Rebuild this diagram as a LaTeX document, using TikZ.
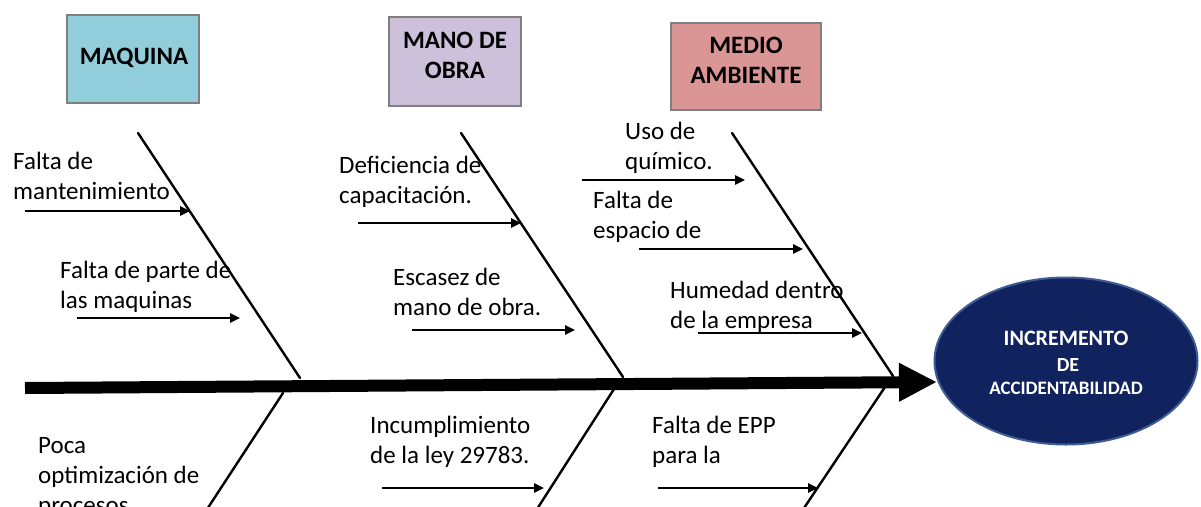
\documentclass[tikz,border=0pt]{standalone}
\usepackage{fontspec}
\setmainfont{Carlito}
\usetikzlibrary{arrows.meta,shapes.geometric}
\definecolor{maqc}{HTML}{92CDDC}
\definecolor{manoc}{HTML}{CCC0DA}
\definecolor{medioc}{HTML}{DA9694}
\definecolor{boxdraw}{HTML}{7F7F7F}
\definecolor{ellfill}{HTML}{10235E}
\definecolor{elldraw}{HTML}{3E5C94}
\tikzset{
  hdrbox/.style={draw=boxdraw, line width=1.2pt, inner sep=0pt},
  hdrtxt/.style={align=center, inner sep=0pt,
    font=\fontsize{25}{30}\selectfont\bfseries},
  elltxt/.style={inner sep=0pt, text=white, font=\bfseries},
  bone/.style={line width=2.4pt, line cap=round},
  cause/.style={line width=2.4pt, -{Triangle[length=10pt,width=9pt]}},
  txt/.style={anchor=west, align=left, inner sep=0pt,
    font=\fontsize{25}{30}\selectfont},
}
\begin{document}
\begin{tikzpicture}[x=1pt,y=-1pt]
\clip (0,0) rectangle (1201,506);
\fill[white] (0,0) rectangle (1201,506);
% header boxes
\node[hdrbox, fill=maqc, minimum width=132pt, minimum height=88pt] (maq) at (133,59) {};
\node[hdrbox, fill=manoc, minimum width=132pt, minimum height=89pt] (mano) at (455,61.5) {};
\node[hdrbox, fill=medioc, minimum width=150pt, minimum height=87pt] (medio) at (746,66.5) {};
\node[hdrtxt] (maqt) at (134,58) {MAQUINA};
\node[hdrtxt] (manot) at (455,55) {MANO DE\\OBRA};
\node[hdrtxt] (mediot) at (746,60) {MEDIO\\AMBIENTE};
% effect ellipse
\node[ellipse, fill=ellfill, draw=elldraw, line width=2pt, minimum width=263pt, minimum height=167pt,
  inner sep=0pt] (ell) at (1066,361) {};
\node[elltxt, font=\fontsize{22}{26}\selectfont\bfseries] (e1) at (1066,338) {INCREMENTO};
\node[elltxt, font=\fontsize{20}{24}\selectfont\bfseries] (e2) at (1068,365) {DE};
\node[elltxt, font=\fontsize{19}{23}\selectfont\bfseries] (e3) at (1066,388) {ACCIDENTABILIDAD};
% spine
\coordinate (s0) at (25,388);
\coordinate (tip) at (937,382);
\draw[line width=12pt, -{Triangle[length=38pt,width=36pt]}] (s0) -- (tip);
% upper bones
\coordinate (u1t) at (138,133); \coordinate (u1b) at (300,378);
\coordinate (u2t) at (461,133); \coordinate (u2b) at (623,377);
\coordinate (u3t) at (732,133); \coordinate (u3b) at (893,376);
\draw[bone] (u1t) -- (u1b);
\draw[bone] (u2t) -- (u2b);
\draw[bone] (u3t) -- (u3b);
% lower bones
\coordinate (l1t) at (283,393); \coordinate (l1b) at (200,520);
\coordinate (l2t) at (614,389); \coordinate (l2b) at (530,520);
\coordinate (l3t) at (885,387); \coordinate (l3b) at (796,520);
\draw[bone] (l1t) -- (l1b);
\draw[bone] (l2t) -- (l2b);
\draw[bone] (l3t) -- (l3b);
% cause arrows
\coordinate (c1s) at (25,211);  \coordinate (c1e) at (190,211);
\coordinate (c2s) at (77,318);  \coordinate (c2e) at (240,318);
\coordinate (c3s) at (358,223); \coordinate (c3e) at (521,223);
\coordinate (c4s) at (412,330); \coordinate (c4e) at (575,330);
\coordinate (c5s) at (582,180); \coordinate (c5e) at (745,180);
\coordinate (c6s) at (639,249); \coordinate (c6e) at (803,249);
\coordinate (c7s) at (698,333); \coordinate (c7e) at (862,333);
\coordinate (c8s) at (382,488); \coordinate (c8e) at (544,488);
\coordinate (c9s) at (658,488); \coordinate (c9e) at (818,488);
\foreach \i in {1,...,9} {\draw[cause] (c\i s) -- (c\i e);}
% cause texts
\node[txt] (t1) at (13,176) {Falta de\\mantenimiento};
\node[txt] (t2) at (60,287) {Falta de parte de\\las maquinas};
\node[txt] (t3) at (339,182) {Deficiencia de\\capacitación.};
\node[txt] (t4) at (393,292) {Escasez de\\mano de obra.};
\node[txt] (t5) at (625,148) {Uso de\\químico.};
\node[txt] (t6) at (593,217) {Falta de\\espacio de};
\node[txt] (t7) at (670,307) {Humedad dentro\\de la empresa};
\node[txt] (t8) at (370,442) {Incumplimiento\\de la ley 29783.};
\node[txt] (t9) at (652,442) {Falta de EPP\\para la};
\node[txt] (t10) at (38,477) {Poca\\optimización de\\procesos};
\end{tikzpicture}
\end{document}
